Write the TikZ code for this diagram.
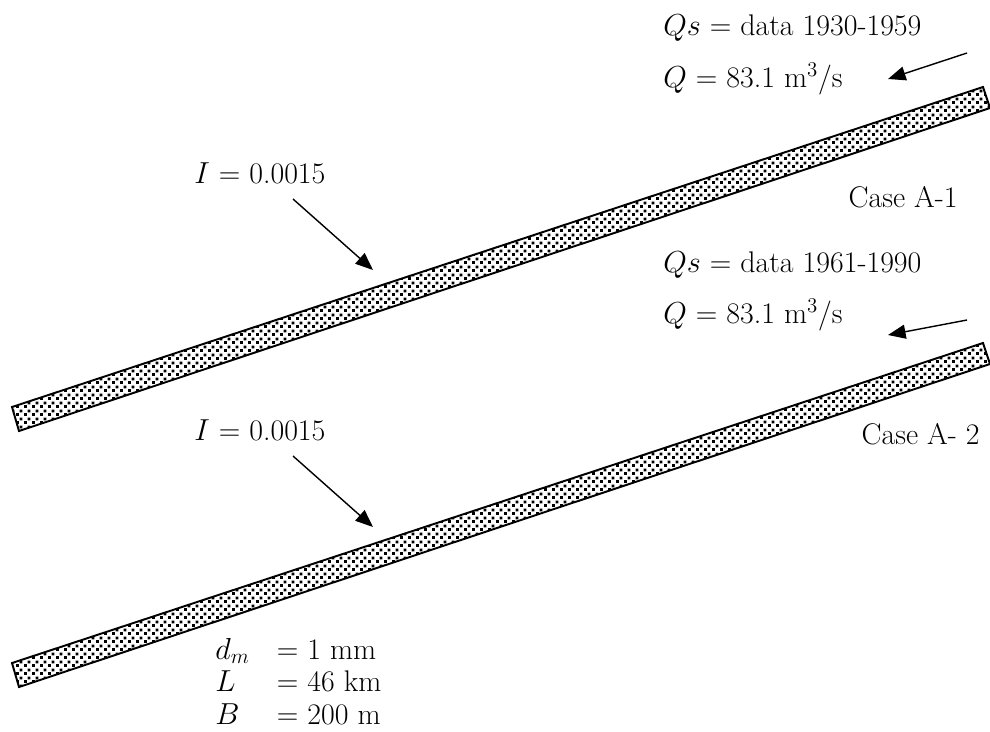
\documentclass[tikz,border=0pt]{standalone}
\usepackage{amsmath}
\usepackage{tikz}
\usetikzlibrary{patterns.meta, arrows.meta, positioning}

% coarse grit texture for the bed
\pgfdeclarepattern{
  name=grit,
  type=uncolored,
  bottom left={\pgfpoint{0pt}{0pt}},
  top right={\pgfpoint{4.6pt}{4.6pt}},
  tile size={\pgfpoint{4.6pt}{4.6pt}},
  code={
    \pgfpathrectangle{\pgfpoint{0pt}{0pt}}{\pgfpoint{1.8pt}{1.8pt}}
    \pgfpathrectangle{\pgfpoint{2.3pt}{2.3pt}}{\pgfpoint{1.8pt}{1.8pt}}
    \pgfusepath{fill}
  }
}

\tikzset{
  bed/.style={draw=black, line width=1.1pt, preaction={fill=white},
    pattern=grit, pattern color=black},
  flow/.style={line width=0.8pt, -{Triangle[length=10pt, width=8pt]}},
  lbl/.style={inner sep=0pt, font=\fontsize{17}{18.5}\selectfont}
}

\begin{document}
\begin{tikzpicture}[x=0.02cm, y=-0.02cm]
\useasboundingbox (0,0) rectangle (990,731);

% river beds
\draw[bed] (12,407) -- (983,87) -- (990,108) -- (19,431) -- cycle;
\begin{scope}[shift={(0,256)}]
\draw[bed] (12,407) -- (983,87) -- (990,108) -- (19,431) -- cycle;
\end{scope}

% case A-1
\node[lbl, anchor=west] (qs1) at (663,28) {$Qs$ = data 1930-1959};
\node[lbl, anchor=west] (q1) at (663,79) {$Q$ = 83.1 m\textsuperscript{3}/s};
\node[lbl, anchor=east] (case1) at (958,197) {Case A-1};
\node[lbl, anchor=west] (i1) at (194,173) {$I$ = 0.0015};
\coordinate (in1) at (967,53);
\coordinate (tip1) at (888,79);
\draw[flow] (in1) -- (tip1);
\coordinate (s1) at (293,199);
\coordinate (t1) at (373,270);
\draw[flow] (s1) -- (t1);

% case A-2
\node[lbl, anchor=west] (qs2) at (663,265) {$Qs$ = data 1961-1990};
\node[lbl, anchor=west] (q2) at (663,315) {$Q$ = 83.1 m\textsuperscript{3}/s};
\node[lbl, anchor=east] (case2) at (980,434) {Case A- 2};
\node[lbl, anchor=west] (i2) at (194,430) {$I$ = 0.0015};
\coordinate (in2) at (967,320);
\coordinate (tip2) at (888,335);
\draw[flow] (in2) -- (tip2);
\coordinate (s2) at (293,456);
\coordinate (t2) at (373,527);
\draw[flow] (s2) -- (t2);

% sediment and reach
\node[lbl, anchor=north west] (dims) at (215,636) {%
  \begin{tabular}{@{}p{35pt}@{}l@{}}
  $d_m$ & = 1 mm\\
  $L$ & = 46 km\\
  $B$ & = 200 m
  \end{tabular}};
\end{tikzpicture}
\end{document}
